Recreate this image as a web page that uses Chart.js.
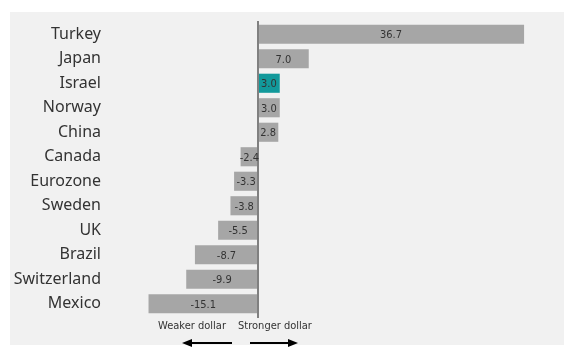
<!DOCTYPE html>
<html>
<head>
<meta charset="utf-8">
<script src="https://cdn.jsdelivr.net/npm/chart.js@4"></script>
<style>
  html, body { margin: 0; padding: 0; background: #fff; }
  canvas { display: block; }
</style>
</head>
<body>
<canvas id="chart" width="564" height="347"></canvas>
<script>
// currency change vs dollar, %
const countries = ["Turkey", "Japan", "Israel", "Norway", "China", "Canada", "Eurozone", "Sweden", "UK", "Brazil", "Switzerland", "Mexico"];
const changes = [36.7, 7.0, 3.0, 3.0, 2.8, -2.4, -3.3, -3.8, -5.5, -8.7, -9.9, -15.1];
const highlight = "Israel";
const leftNote = "Weaker dollar";
const rightNote = "Stronger dollar";

const barColors = countries.map((c) => (c === highlight ? "#12999b" : "#a6a6a6"));

// grey panel + zero line + value labels + arrows
const decorPlugin = {
  id: "decor",
  beforeDraw(chart) {
    const ctx = chart.ctx;
    ctx.save();
    ctx.fillStyle = "#ffffff";
    ctx.fillRect(0, 0, chart.width, chart.height);
    ctx.fillStyle = "#f1f1f1";
    ctx.fillRect(10, 12, chart.width - 10, 333);
    ctx.restore();
  },
  afterDatasetsDraw(chart) {
    const ctx = chart.ctx;
    const xs = chart.scales.x;
    const area = chart.chartArea;
    const x0 = xs.getPixelForValue(0);

    ctx.save();
    ctx.strokeStyle = "#808080";
    ctx.lineWidth = 2;
    ctx.beginPath();
    ctx.moveTo(x0, area.top - 1);
    ctx.lineTo(x0, area.bottom + 2);
    ctx.stroke();

    // value labels in the middle of each bar
    const meta = chart.getDatasetMeta(0);
    ctx.fillStyle = "#333333";
    ctx.font = "11px 'Liberation Sans Narrow', 'DejaVu Sans Condensed', sans-serif";
    ctx.textAlign = "center";
    ctx.textBaseline = "middle";
    meta.data.forEach((bar, i) => {
      const cx = (bar.x + bar.base) / 2;
      ctx.fillText(changes[i].toFixed(1), cx, bar.y + 1);
    });

    // direction notes
    ctx.font = "11px 'Liberation Sans Narrow', 'DejaVu Sans Condensed', sans-serif";
    ctx.fillStyle = "#333333";
    ctx.fillText(leftNote, x0 - 66, area.bottom + 10);
    ctx.fillText(rightNote, x0 + 17, area.bottom + 10);

    // arrows
    ctx.strokeStyle = "#000000";
    ctx.fillStyle = "#000000";
    ctx.lineWidth = 2;
    const ay = area.bottom + 27;
    ctx.beginPath();
    ctx.moveTo(x0 - 26, ay);
    ctx.lineTo(x0 - 68, ay);
    ctx.stroke();
    ctx.beginPath();
    ctx.moveTo(x0 - 76, ay);
    ctx.lineTo(x0 - 66, ay - 4);
    ctx.lineTo(x0 - 66, ay + 4);
    ctx.closePath();
    ctx.fill();
    ctx.beginPath();
    ctx.moveTo(x0 - 8, ay);
    ctx.lineTo(x0 + 32, ay);
    ctx.stroke();
    ctx.beginPath();
    ctx.moveTo(x0 + 40, ay);
    ctx.lineTo(x0 + 30, ay - 4);
    ctx.lineTo(x0 + 30, ay + 4);
    ctx.closePath();
    ctx.fill();
    ctx.restore();
  },
};

new Chart(document.getElementById("chart").getContext("2d"), {
  type: "bar",
  data: {
    labels: countries,
    datasets: [
      {
        data: changes,
        backgroundColor: barColors,
        borderWidth: 0,
        categoryPercentage: 1,
        barPercentage: 0.78,
      },
    ],
  },
  options: {
    indexAxis: "y",
    responsive: false,
    animation: false,
    devicePixelRatio: 1,
    layout: { padding: { top: 22, bottom: 31, left: 0, right: 16 } },
    plugins: {
      legend: { display: false },
      tooltip: { enabled: false },
    },
    scales: {
      x: {
        display: false,
        min: -20,
        max: 40,
      },
      y: {
        grid: { display: false, drawTicks: false },
        border: { display: false },
        ticks: {
          color: "#333333",
          padding: 12,
          font: { family: "'Noto Sans', sans-serif", size: 16 },
        },
        afterFit(scale) {
          scale.width = 113;
        },
      },
    },
  },
  plugins: [decorPlugin],
});
</script>
</body>
</html>
